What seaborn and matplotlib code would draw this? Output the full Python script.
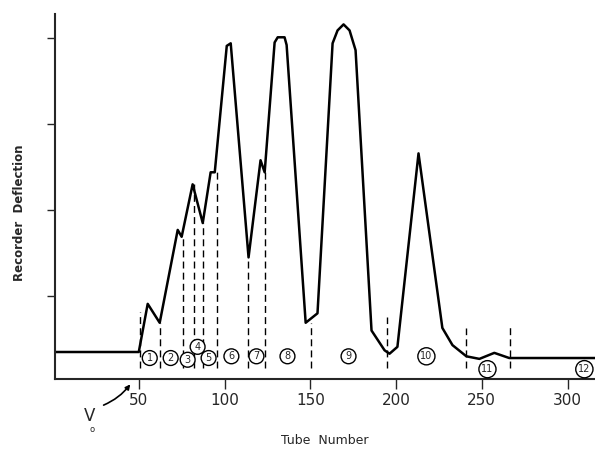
import matplotlib
matplotlib.use("Agg")
import matplotlib.pyplot as plt
import seaborn as sns

# Elution profile
tube = [1, 50, 55.2, 62.2, 72.7, 75, 81.4, 87.3, 91.9, 94.3, 101.3, 103.6,
        114, 121, 123.4, 129.2, 131, 135, 136.2, 147.3, 154.2, 163, 165.9,
        169.4, 172.9, 176.4, 185.7, 193.3, 196.2, 200.8, 213.1, 227, 232.9,
        241, 248.6, 257.3, 266, 316]
deflection = [0.35, 0.35, 0.91, 0.69, 1.77, 1.69, 2.30, 1.85, 2.44, 2.44, 3.91,
              3.94, 1.45, 2.58, 2.44, 3.95, 4.01, 4.01, 3.92, 0.69, 0.80, 3.94,
              4.09, 4.16, 4.09, 3.86, 0.60, 0.37, 0.33, 0.41, 2.66, 0.63, 0.43,
              0.30, 0.27, 0.34, 0.28, 0.28]

# fraction cut lines (tube, top of dash)
cut_tubes = [50.6, 62.2, 75.6, 82, 87.3, 95.4, 113.5, 123.4, 150.2, 195, 241, 266.7]
cut_tops = [0.81, 0.69, 1.69, 2.30, 1.85, 2.44, 1.45, 2.44, 0.69, 0.76, 0.63, 0.64]
cut_bottom = 0.16

# circled fraction numbers
frac_labels = ["1", "2", "3", "4", "5", "6", "7", "8", "9", "10", "11", "12"]
frac_tube = [56.4, 68.6, 78.5, 84.3, 90.7, 104, 118.6, 136.7, 172.3, 217.7, 253.3, 309.8]
frac_y = [0.28, 0.28, 0.26, 0.41, 0.28, 0.30, 0.30, 0.30, 0.30, 0.30, 0.15, 0.15]

xticks = [50, 100, 150, 200, 250, 300]
yticks = [1, 2, 3, 4]

sns.set_style("ticks")
plt.rcParams["font.family"] = ["DejaVu Sans"]

fig = plt.figure(figsize=(5.95, 4.54), dpi=100)
ax = fig.add_axes([0.092, 0.165, 0.908, 0.804])

sns.lineplot(x=tube, y=deflection, sort=False, estimator=None, color="black",
             linewidth=1.8, ax=ax)

for t, top in zip(cut_tubes, cut_tops):
    ax.plot([t, t], [cut_bottom, top], color="black", linewidth=1.0,
            linestyle=(0, (5, 3)))

for lab, t, y in zip(frac_labels, frac_tube, frac_y):
    ax.text(t, y, lab, ha="center", va="center", fontsize=7,
            bbox=dict(boxstyle="circle,pad=0.25", fc="white", ec="black", lw=1.0))

# void volume marker
ax.annotate("", xy=(46, 0.0), xytext=(28, -0.28), xycoords="data",
            arrowprops=dict(arrowstyle="-|>", color="black", lw=1.2,
                            connectionstyle="arc3,rad=0.15", mutation_scale=7),
            annotation_clip=False)
ax.text(21.5, -0.40, "V", ha="center", va="center", fontsize=12, clip_on=False)
ax.text(23, -0.55, "o", ha="center", va="center", fontsize=6, clip_on=False)

ax.set_xlim(1, 316)
ax.set_ylim(0.035, 4.28)
ax.set_xticks(xticks)
ax.set_yticks(yticks)
ax.set_yticklabels([])
ax.tick_params(axis="x", direction="out", length=7, width=1.0, labelsize=11, pad=3)
ax.tick_params(axis="y", direction="out", length=6, width=1.0)
ax.set_xlabel("Tube  Number", fontsize=9, labelpad=19)
ax.set_ylabel("Recorder  Deflection", fontsize=8.5, fontweight="bold")
ax.yaxis.set_label_coords(-0.053, 0.457)
sns.despine(ax=ax)
for side in ["left", "bottom"]:
    ax.spines[side].set_linewidth(1.5)

fig.savefig("out.png", dpi=100)
